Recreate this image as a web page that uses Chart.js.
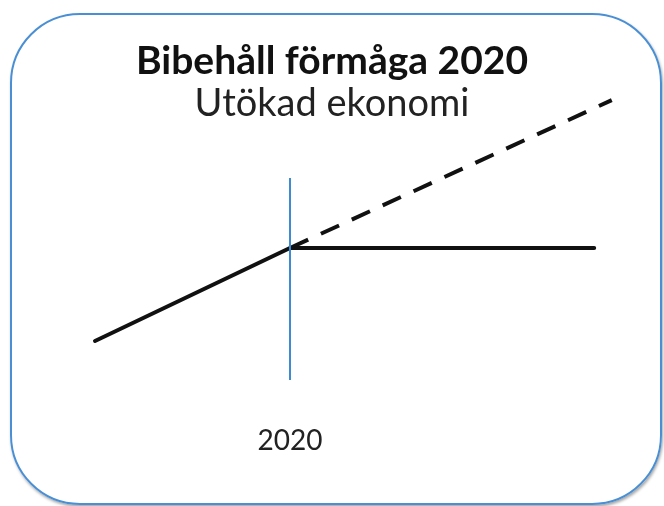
<!DOCTYPE html>
<html>
<head>
<meta charset="utf-8">
<script src="https://cdn.jsdelivr.net/npm/chart.js@4"></script>
<style>
  html, body { margin: 0; padding: 0; background: #fff; }
  #wrap { position: relative; width: 664px; height: 506px; overflow: hidden; }
  #frame {
    position: absolute; left: 10px; top: 13px; width: 652px; height: 492px;
    box-sizing: border-box; border: 2px solid #4a8fd4; border-radius: 70px;
    box-shadow: 1px 2px 3px rgba(0,0,0,0.35);
  }
  #chart { position: absolute; left: 0; top: 0; }
</style>
</head>
<body>
<div id="wrap">
  <div id="frame"></div>
  <canvas id="chart" width="664" height="506"></canvas>
</div>
<script>
// ---------- data ----------
const titleText = 'Bibehåll förmåga 2020';
const subtitleText = 'Utökad ekonomi';
const tickLabels = ['2020'];

// solid path: growth up to 2020, then flat
const solidX = [2010, 2020, 2035.6];
const solidY = [0, 3, 3];
// dashed path: continued growth after 2020
const dashedX = [2020, 2036.5];
const dashedY = [3, 7.77];
// blue marker at 2020
const markerX = [2020, 2020];
const markerY = [-1.26, 5.26];

function pts(xs, ys) {
  return xs.map((x, i) => ({ x: x, y: ys[i] }));
}

new Chart(document.getElementById('chart'), {
  type: 'line',
  data: {
    datasets: [
      {
        data: pts(markerX, markerY),
        borderColor: '#3d8bd0',
        borderWidth: 2,
        pointRadius: 0,
        clip: false
      },
      {
        data: pts(solidX, solidY),
        borderColor: '#111',
        borderWidth: 4,
        borderCapStyle: 'round',
        borderJoinStyle: 'miter',
        pointRadius: 0,
        clip: false
      },
      {
        data: pts(dashedX, dashedY),
        borderColor: '#111',
        borderWidth: 4,
        borderDash: [20, 14],
        pointRadius: 0,
        clip: false
      }
    ]
  },
  options: {
    responsive: false,
    animation: false,
    layout: { padding: 0 },
    plugins: {
      legend: { display: false },
      tooltip: { enabled: false },
      title: {
        display: true,
        text: titleText,
        color: '#111',
        font: { family: 'Lato', size: 39, weight: 'bold', lineHeight: '40px' },
        padding: { top: 41, bottom: 0 }
      },
      subtitle: {
        display: true,
        text: subtitleText,
        color: '#222',
        font: { family: 'Lato', size: 38, lineHeight: '40px' },
        padding: { top: 3, bottom: 6 }
      }
    },
    scales: {
      x: {
        type: 'linear',
        min: 2020 - 290 / 19.5,
        max: 2020 + 374 / 19.5,
        grid: { display: false, drawTicks: false },
        border: { display: false },
        afterBuildTicks: (axis) => {
          axis.ticks = tickLabels.map(v => ({ value: Number(v) }));
        },
        afterFit: (axis) => { axis.height = 96; },
        ticks: {
          padding: 14,
          color: '#222',
          font: { family: 'Lato', size: 28 },
          callback: (v) => String(v)
        }
      },
      y: {
        display: false,
        min: 3 - 162 / 31,
        max: 3 + 118 / 31
      }
    }
  }
});
</script>
</body>
</html>
